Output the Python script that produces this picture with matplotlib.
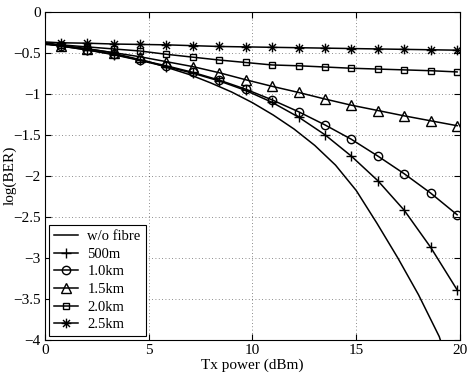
import matplotlib
matplotlib.use("Agg")
import matplotlib.pyplot as plt
from matplotlib.path import Path

# Tx power positions of the markers (dBm); lines also start at 0 dBm
marker_x = [0.76, 2.03, 3.31, 4.58, 5.85, 7.12, 8.40, 9.67,
            10.94, 12.22, 13.49, 14.76, 16.04, 17.31, 18.58, 19.86]

# log(BER) at x = 0 followed by the values at marker_x
km25 = [-0.37, -0.38, -0.385, -0.395, -0.40, -0.405, -0.415, -0.425, -0.43,
        -0.435, -0.44, -0.445, -0.45, -0.455, -0.46, -0.465, -0.47]
km20 = [-0.38, -0.405, -0.43, -0.455, -0.48, -0.52, -0.555, -0.59, -0.62,
        -0.65, -0.66, -0.675, -0.69, -0.70, -0.71, -0.72, -0.735]
km15 = [-0.385, -0.415, -0.455, -0.50, -0.55, -0.61, -0.67, -0.745, -0.83,
        -0.91, -0.985, -1.065, -1.14, -1.205, -1.27, -1.33, -1.39]
km10 = [-0.39, -0.418, -0.466, -0.52, -0.59, -0.66, -0.74, -0.835, -0.945,
        -1.075, -1.22, -1.38, -1.555, -1.76, -1.975, -2.21, -2.475]
m500 = [-0.39, -0.42, -0.467, -0.525, -0.595, -0.67, -0.75, -0.845, -0.96,
        -1.105, -1.285, -1.50, -1.76, -2.06, -2.42, -2.87, -3.39]

# back-to-back curve (no fibre), no markers
nofib_x = [0, 1, 2, 3, 4, 5, 6, 7, 8, 9, 10, 11, 12, 13, 14, 15, 16, 17, 18, 19, 19.1]
nofib_y = [-0.40, -0.42, -0.45, -0.49, -0.55, -0.61, -0.69, -0.77, -0.87, -0.98,
           -1.11, -1.26, -1.43, -1.63, -1.87, -2.18, -2.58, -3.00, -3.45, -3.96, -4.04]

plt.rcParams["font.family"] = ["Liberation Serif", "DejaVu Serif"]
plt.rcParams["font.size"] = 11

# MATLAB-style asterisk: plus and cross overlaid
d = 0.72
asterisk = Path([(-1, 0), (1, 0), (0, -1), (0, 1), (-d, -d), (d, d), (-d, d), (d, -d)],
                [Path.MOVETO, Path.LINETO] * 4)

fig = plt.figure(figsize=(4.68, 3.74), dpi=100)
ax = fig.add_axes([0.096, 0.091, 0.887, 0.878])

xs = [0] + marker_x
ax.plot(nofib_x, nofib_y, color="k", lw=1.1, label="w/o fibre")
series = [
    (m500, "+", 7, "500m"),
    (km10, "o", 6, "1.0km"),
    (km15, "^", 6.5, "1.5km"),
    (km20, "s", 5, "2.0km"),
    (km25, asterisk, 7, "2.5km"),
]
for ys, mk, ms, lab in series:
    ax.plot(xs, ys, color="k", lw=1.1, marker=mk, markersize=ms,
            markerfacecolor="none", markeredgecolor="k", markeredgewidth=1.0,
            markevery=slice(1, None), label=lab)

ax.set_xlim(0, 20)
ax.set_ylim(-4, 0)
ax.set_xticks([0, 5, 10, 15, 20])
ax.set_yticks([0, -0.5, -1, -1.5, -2, -2.5, -3, -3.5, -4])
ax.set_yticklabels(["0", "−0.5", "−1", "−1.5", "−2", "−2.5", "−3", "−3.5", "−4"])
ax.tick_params(direction="in", top=True, right=True, length=4, pad=3)
ax.grid(True, linestyle=(0, (1, 3)), color="k", lw=0.6, alpha=0.6)
ax.set_xlabel("Tx power (dBm)", labelpad=1)
ax.set_ylabel("log(BER)")
ax.yaxis.set_label_coords(-0.068, 0.5)

leg = ax.legend(loc="lower left", fontsize=10.5, handlelength=1.7,
                borderaxespad=0.25, labelspacing=0.3, fancybox=False,
                edgecolor="k", framealpha=1, borderpad=0.35, handletextpad=0.6)
leg.get_frame().set_linewidth(0.8)

fig.savefig("out.png", dpi=100)
